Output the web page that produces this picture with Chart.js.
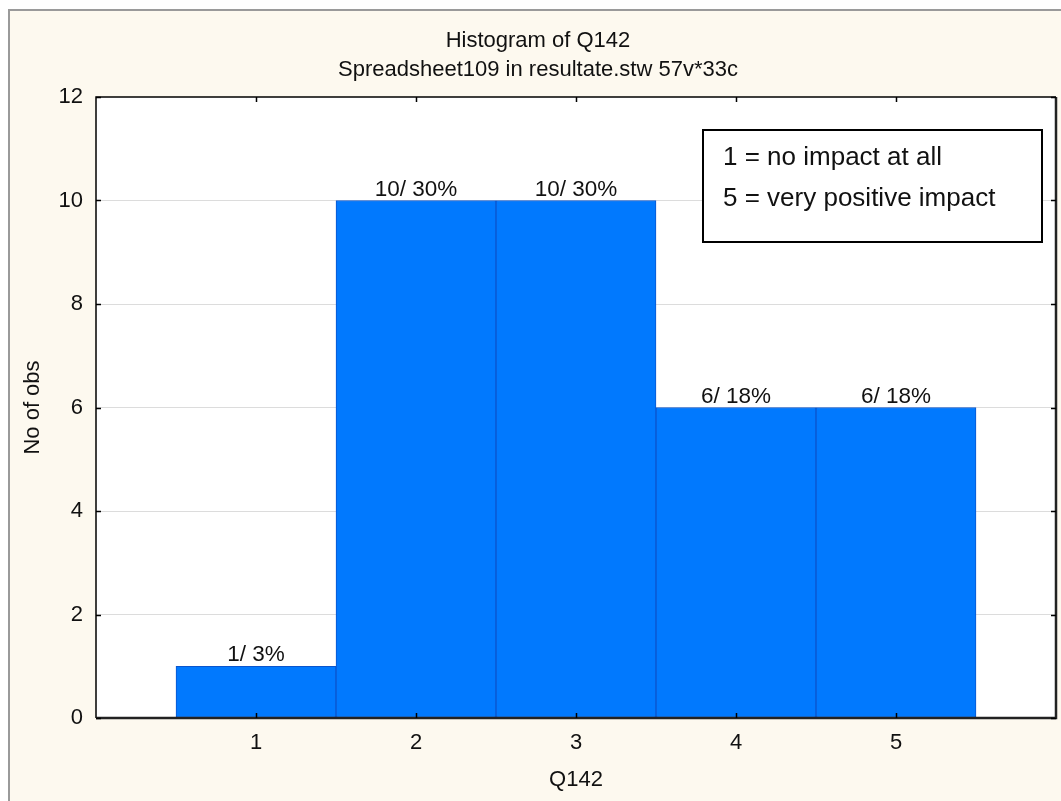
<!DOCTYPE html>
<html>
<head>
<meta charset="utf-8">
<title>Histogram of Q142</title>
<script src="https://cdn.jsdelivr.net/npm/chart.js@4/dist/chart.umd.min.js"></script>
<style>
  html, body { margin: 0; padding: 0; background: #ffffff; }
  #wrap { width: 1061px; height: 801px; position: relative; }
</style>
</head>
<body>
<div id="wrap"><canvas id="hist" width="1061" height="801"></canvas></div>
<script>
// Response values of Q142 and how many answers fell on each
const categories = [1, 2, 3, 4, 5];
const counts = [1, 10, 10, 6, 6];
const yTicks = [0, 2, 4, 6, 8, 10, 12];
const titleLines = ['Histogram of Q142', 'Spreadsheet109 in resultate.stw 57v*33c'];
const xAxisTitle = 'Q142';
const yAxisTitle = 'No of obs';
const scaleNotes = ['1 = no impact at all', '5 = very positive impact'];

const FONT = '"Liberation Sans", Arial, Helvetica, sans-serif';
const total = counts.reduce((a, b) => a + b, 0);

// Page frame, plot background, titles and the note box
const framePlugin = {
  id: 'frame',
  beforeDraw(chart) {
    const ctx = chart.ctx;
    const a = chart.chartArea;
    ctx.save();
    ctx.fillStyle = '#ffffff';
    ctx.fillRect(0, 0, chart.width, chart.height);
    ctx.fillStyle = '#FDF9EF';
    ctx.fillRect(9, 10, chart.width, chart.height);
    ctx.strokeStyle = '#9a9a9a';
    ctx.lineWidth = 2;
    ctx.beginPath();
    ctx.moveTo(9, chart.height + 2);
    ctx.lineTo(9, 10);
    ctx.lineTo(chart.width + 2, 10);
    ctx.stroke();
    ctx.fillStyle = '#ffffff';
    ctx.fillRect(a.left, a.top, a.right - a.left, a.bottom - a.top);

    ctx.fillStyle = '#111111';
    ctx.font = '22px ' + FONT;
    ctx.textAlign = 'center';
    ctx.textBaseline = 'alphabetic';
    ctx.fillText(titleLines[0], 538, 47);
    ctx.fillText(titleLines[1], 538, 76);
    ctx.restore();
  },
  afterDatasetsDraw(chart) {
    const ctx = chart.ctx;
    const a = chart.chartArea;
    const xs = chart.scales.x;
    const ys = chart.scales.y;
    ctx.save();

    // value / percent labels above the bars
    ctx.fillStyle = '#111111';
    ctx.font = '22.5px ' + FONT;
    ctx.textAlign = 'center';
    ctx.textBaseline = 'alphabetic';
    categories.forEach((c, i) => {
      const v = counts[i];
      const pct = Math.round(v / total * 100);
      ctx.fillText(v + '/ ' + pct + '%', xs.getPixelForValue(c), ys.getPixelForValue(v) - 5);
    });

    // plot frame
    ctx.strokeStyle = '#000000';
    ctx.lineWidth = 1.5;
    ctx.beginPath();
    ctx.moveTo(a.left, a.bottom);
    ctx.lineTo(a.left, a.top);
    ctx.lineTo(a.right, a.top);
    ctx.stroke();
    ctx.strokeStyle = '#222222';
    ctx.lineWidth = 2.5;
    ctx.beginPath();
    ctx.moveTo(a.right, a.top);
    ctx.lineTo(a.right, a.bottom);
    ctx.lineTo(a.left, a.bottom);
    ctx.stroke();

    // inward tick marks on all four sides
    ctx.strokeStyle = '#000000';
    ctx.lineWidth = 1.5;
    ctx.beginPath();
    yTicks.forEach(t => {
      const y = Math.round(ys.getPixelForValue(t)) + 0.5;
      ctx.moveTo(a.left, y); ctx.lineTo(a.left + 5, y);
      ctx.moveTo(a.right - 5, y); ctx.lineTo(a.right, y);
    });
    categories.forEach(c => {
      const x = Math.round(xs.getPixelForValue(c)) + 0.5;
      ctx.moveTo(x, a.top); ctx.lineTo(x, a.top + 5);
      ctx.moveTo(x, a.bottom - 5); ctx.lineTo(x, a.bottom);
    });
    ctx.stroke();

    // note box explaining the scale
    ctx.fillStyle = '#ffffff';
    ctx.fillRect(703, 130, 339, 112);
    ctx.strokeStyle = '#000000';
    ctx.lineWidth = 2;
    ctx.strokeRect(703, 130, 339, 112);
    ctx.fillStyle = '#111111';
    ctx.font = '26px ' + FONT;
    ctx.textAlign = 'left';
    ctx.fillText(scaleNotes[0], 723, 165);
    ctx.fillText(scaleNotes[1], 723, 206);
    ctx.restore();
  }
};

new Chart(document.getElementById('hist'), {
  type: 'bar',
  data: {
    datasets: [{
      data: categories.map((c, i) => ({ x: c, y: counts[i] })),
      backgroundColor: '#0179FE',
      borderColor: '#0B55CC',
      borderWidth: 1,
      borderSkipped: false,
      barPercentage: 1,
      categoryPercentage: 1
    }]
  },
  options: {
    responsive: false,
    animation: false,
    devicePixelRatio: 1,
    layout: { padding: { left: 0, top: 97, right: 5, bottom: 0 } },
    plugins: { legend: { display: false }, title: { display: false }, tooltip: { enabled: false } },
    scales: {
      x: {
        type: 'linear',
        offset: false,
        min: 0,
        max: 6,
        afterFit(s) { s.height = 83; },
        afterBuildTicks(s) { s.ticks = categories.map(v => ({ value: v })); },
        grid: { display: false, drawTicks: false, offset: false },
        border: { display: false },
        ticks: { padding: 12, color: '#111111', font: { family: FONT, size: 22 } },
        title: { display: true, text: xAxisTitle, color: '#111111', padding: { top: 0, bottom: 8 }, font: { family: FONT, size: 22 } }
      },
      y: {
        min: 0,
        max: 12,
        afterFit(s) { s.width = 96; },
        afterBuildTicks(s) { s.ticks = yTicks.map(v => ({ value: v })); },
        grid: {
          drawTicks: false,
          color: ctx => (ctx.tick && (ctx.tick.value === 0 || ctx.tick.value === 12)) ? 'rgba(0,0,0,0)' : '#DCDCDC',
          lineWidth: 1
        },
        border: { display: false },
        ticks: { padding: 13, color: '#111111', font: { family: FONT, size: 22 } },
        title: { display: true, text: yAxisTitle, color: '#111111', padding: { top: 20, bottom: 0 }, font: { family: FONT, size: 22 } }
      }
    }
  },
  plugins: [framePlugin]
});
</script>
</body>
</html>
